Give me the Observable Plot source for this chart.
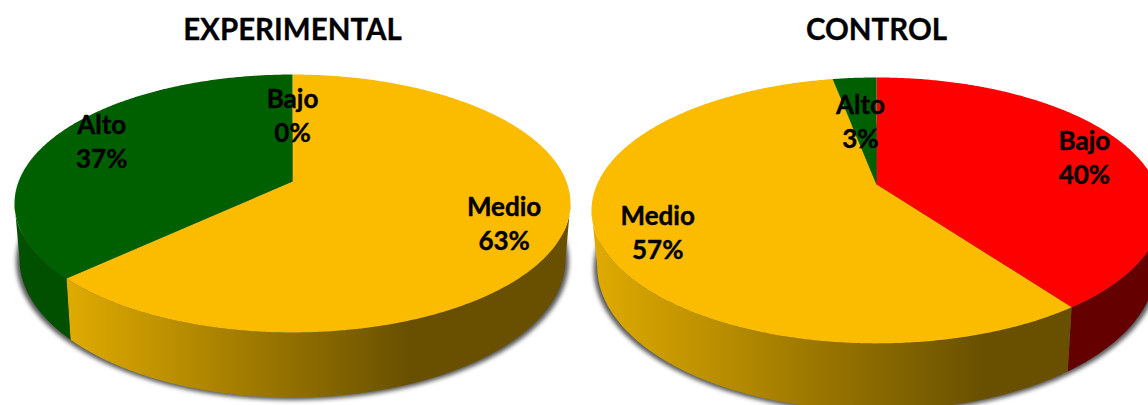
<!DOCTYPE html>
<html>
<head>
<meta charset="utf-8">
<script src="https://cdn.jsdelivr.net/npm/d3@7"></script>
<script src="https://cdn.jsdelivr.net/npm/@observablehq/plot@0.6"></script>
<style>
  html, body { margin: 0; padding: 0; background: #fff; }
  svg { display: block; }
</style>
</head>
<body>
<script>
// Level shares per group (percent)
const categories = ["Bajo", "Medio", "Alto"];
const experimentalShares = [0, 63, 37];
const controlShares = [40, 57, 3];
const groupNames = ["EXPERIMENTAL", "CONTROL"];

const topColors = { Bajo: "#ff0000", Medio: "#fbbc00", Alto: "#006000" };
const wallColors = { Bajo: "#640000", Alto: "#005000" };

const width = 1148, height = 405;

// Tilted-disc geometry of each pie: the hub, the scale of the disc, its
// perspective foreshortening and the depth of the rim. The label nudges
// follow the category order.
const discs = [
  { cx: 292, cy: 181, rx: 273.9, ry: 125.2, k: 0.1705, depth: 54, taper: 0.982, shares: experimentalShares, fade: 0.68,
    labelDx: [0, -1, 0], labelDy: [-4, -1, -4] },
  { cx: 876, cy: 184, rx: 279.5, ry: 127.9, k: 0.195, depth: 54, taper: 0.98, shares: controlShares, fade: 0.82,
    labelDx: [5, 0, -3], labelDy: [2, 3, -1] }
];

const rad = (share) => (share / 100) * 2 * Math.PI;

// Project polar disc coordinates (clockwise from twelve o'clock) to the page.
function rimPoint(d, a, r = 1, down = false) {
  const u = r * Math.sin(a), v = r * Math.cos(a), w = 1 + d.k * v;
  const s = down ? d.taper : 1;
  return {
    x: d.cx + (d.rx * u * s) / w,
    y: d.cy - (d.ry * v) / w + (down ? d.depth / w : 0)
  };
}

function arcAngles(a0, a1) {
  const n = Math.max(1, Math.ceil(Math.abs(a1 - a0) / (Math.PI / 360)));
  return d3.range(n + 1).map((i) => a0 + ((a1 - a0) * i) / n);
}

function slices(d) {
  let acc = 0;
  return categories.map((name, i) => {
    const share = d.shares[i], a0 = rad(acc), a1 = rad(acc + share);
    acc += share;
    return { name, share, a0, a1, mid: (a0 + a1) / 2, index: i };
  });
}

const polygon = (points, fill, extra = {}) =>
  Plot.line(points, { x: "x", y: "y", fill, stroke: "none", curve: "linear-closed", ...extra });

// Soft shadow cast under the whole rim
function shadowMark(d) {
  const big = { ...d, taper: d.taper + 0.012, depth: d.depth + 2 };
  const pts = arcAngles(0, 2 * Math.PI).map((a) => rimPoint(big, a, 1, true));
  return polygon(pts, "#3c3c3c", { imageFilter: "blur(2px)", fillOpacity: 0.85 });
}

// Rim segments: only the arc that faces the viewer, between the two
// points where the disc outline turns back
function wallMarks(d, di) {
  const lo = Math.acos(-d.k), hi = 2 * Math.PI - lo;
  return slices(d).flatMap((s) => {
    const a0 = Math.max(s.a0, lo), a1 = Math.min(s.a1, hi);
    if (a1 <= a0) return [];
    const angles = arcAngles(a0, a1);
    const pts = [
      ...angles.map((a) => rimPoint(d, a)),
      ...angles.slice().reverse().map((a) => rimPoint(d, a, 1, true))
    ];
    const fill = s.name === "Medio" ? `url(#medio-wall-${di})` : wallColors[s.name];
    return [polygon(pts, fill)];
  });
}

function topMarks(d) {
  return slices(d)
    .filter((s) => s.share > 0)
    .map((s) => polygon(
      [rimPoint(d, 0, 0), ...arcAngles(s.a0, s.a1).map((a) => rimPoint(d, a))],
      topColors[s.name]
    ));
}

function labelRows(d) {
  return slices(d).map((s) => {
    const r = s.share < 5 ? 0.55 : 0.8;
    const p = rimPoint(d, s.mid, r);
    return { x: p.x + d.labelDx[s.index], y: p.y + d.labelDy[s.index], text: `${s.name}\n${s.share}%` };
  });
}

// Horizontal light-to-dark sweep along the amber rim
const gradients = () => {
  const defs = d3.create("svg:defs");
  discs.forEach((d, i) => {
    const g = defs.append("linearGradient").attr("id", `medio-wall-${i}`)
      .attr("x1", 0).attr("x2", 1).attr("y1", 0).attr("y2", 0);
    g.append("stop").attr("offset", 0).attr("stop-color", "#e0ab00");
    g.append("stop").attr("offset", d.fade).attr("stop-color", "#685000");
    g.append("stop").attr("offset", 1).attr("stop-color", "#685000");
  });
  return defs.node();
};

const chart = Plot.plot({
  width, height,
  margin: 0,
  style: { background: "#fff", fontFamily: "Lato, 'Open Sans', sans-serif" },
  x: { domain: [0, width], range: [0, width], axis: null },
  y: { domain: [0, height], range: [0, height], axis: null },
  marks: [
    gradients,
    ...discs.map(shadowMark),
    ...discs.flatMap(wallMarks),
    ...discs.flatMap(topMarks),
    ...discs.map((d) => Plot.text(labelRows(d), {
      x: "x", y: "y", text: "text",
      fontSize: 26, fontWeight: 700, lineHeight: 1.31, fill: "#000", stroke: "#000", strokeWidth: 0.4
    })),
    Plot.text(discs.map((d, i) => ({ x: d.cx, label: groupNames[i] })), {
      x: "x", y: () => 30, text: "label",
      fontSize: 29.5, fontWeight: 700, fill: "#000", stroke: "#000", strokeWidth: 0.3
    })
  ]
});
document.body.appendChild(chart);
</script>
</body>
</html>
